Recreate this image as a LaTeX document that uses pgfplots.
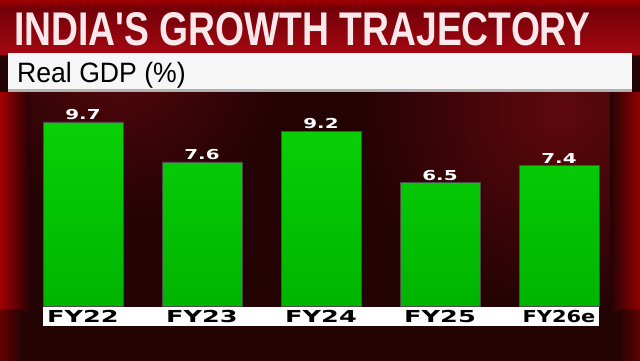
\documentclass[border=0pt]{standalone}
\usepackage{pgfplots}
\pgfplotsset{compat=1.18}
\usepackage{fontspec}
\setmainfont{Liberation Sans}
\newfontfamily\wide{DejaVu Sans}
\definecolor{bg}{RGB}{36,3,5}
\definecolor{glow}{RGB}{95,8,12}
\definecolor{edgered}{RGB}{185,0,0}
\definecolor{banddark}{RGB}{115,0,8}
\definecolor{bandred}{RGB}{165,8,18}
\definecolor{titlepink}{RGB}{250,232,235}
\definecolor{barhi}{RGB}{8,208,8}
\definecolor{barlo}{RGB}{0,180,0}
\definecolor{stripwhite}{RGB}{246,246,246}
\newcommand\lab[1]{\scalebox{1.55}[1]{#1}}
\begin{document}
\begin{tikzpicture}[x=1bp,y=1bp]
\useasboundingbox (0,0) rectangle (640,360);
% background
\fill[bg] (-5,-5) rectangle (645,306);
\begin{scope}
\clip (-5,-5) rectangle (645,268);
\shade[inner color=glow, outer color=bg] (560,250) circle (200);
\shade[inner color=glow!80!bg, outer color=bg] (120,300) circle (160);
\end{scope}
\shade[left color=edgered, right color=bg] (-5,50) rectangle (30,268);
\shade[left color=edgered!55!bg, right color=bg] (-5,-5) rectangle (22,50.5);
\shade[left color=bg, right color=edgered!90!black] (610,50) rectangle (645,268);
\shade[left color=bg, right color=edgered!50!bg] (618,-5) rectangle (645,50.5);
% title band
\shade[top color=banddark, bottom color=bandred] (-5,306) rectangle (645,352);
\shade[top color=edgered, bottom color=banddark] (-5,352) rectangle (645,365);
\node[anchor=base west, inner sep=0pt, text=titlepink] at (14,315)
  {\resizebox{576bp}{33bp}{\bfseries INDIA\textquotesingle S GROWTH TRAJECTORY}};
% subtitle bar
\fill[stripwhite] (8,268) rectangle (632,307);
\fill[gray!60] (8,268) rectangle (632,271);
\node[anchor=base west, inner sep=0pt, text=black] at (17,278)
  {\scalebox{0.95}[1]{\fontsize{28bp}{30bp}\selectfont Real GDP (\%)}};
% label strip
\fill[white] (43,34) rectangle (599,53);
\begin{axis}[
  at={(23.5bp,54bp)}, anchor=south west,
  scale only axis, width=595bp, height=227.64bp,
  xmin=-0.5, xmax=4.5, ymin=0, ymax=12,
  clip=false, axis line style={draw=none}, tick style={draw=none},
  ytick=\empty, xtick=data,
  xticklabels={\lab{FY22},\lab{FY23},\lab{FY24},\lab{FY25},\scalebox{1.27}[1]{FY26e}},
  xticklabel style={anchor=center, yshift=-6.5bp, text=black,
    font=\wide\bfseries\fontsize{16.5bp}{18bp}\selectfont},
  ybar, bar width=80bp,
  nodes near coords={\scalebox{1.45}[1]{\pgfmathprintnumber{\pgfplotspointmeta}}},
  nodes near coords style={anchor=south, inner sep=0pt, yshift=2bp, text=white,
    font=\wide\bfseries\fontsize{13.7bp}{15bp}\selectfont,
    /pgf/number format/.cd, fixed, fixed zerofill, precision=1, assume math mode=true},
]
\addplot[draw=black!70, line width=0.6pt, top color=barhi, bottom color=barlo]
  coordinates {(0,9.7) (1,7.6) (2,9.2) (3,6.5) (4,7.4)};
\end{axis}
\end{tikzpicture}
\end{document}
